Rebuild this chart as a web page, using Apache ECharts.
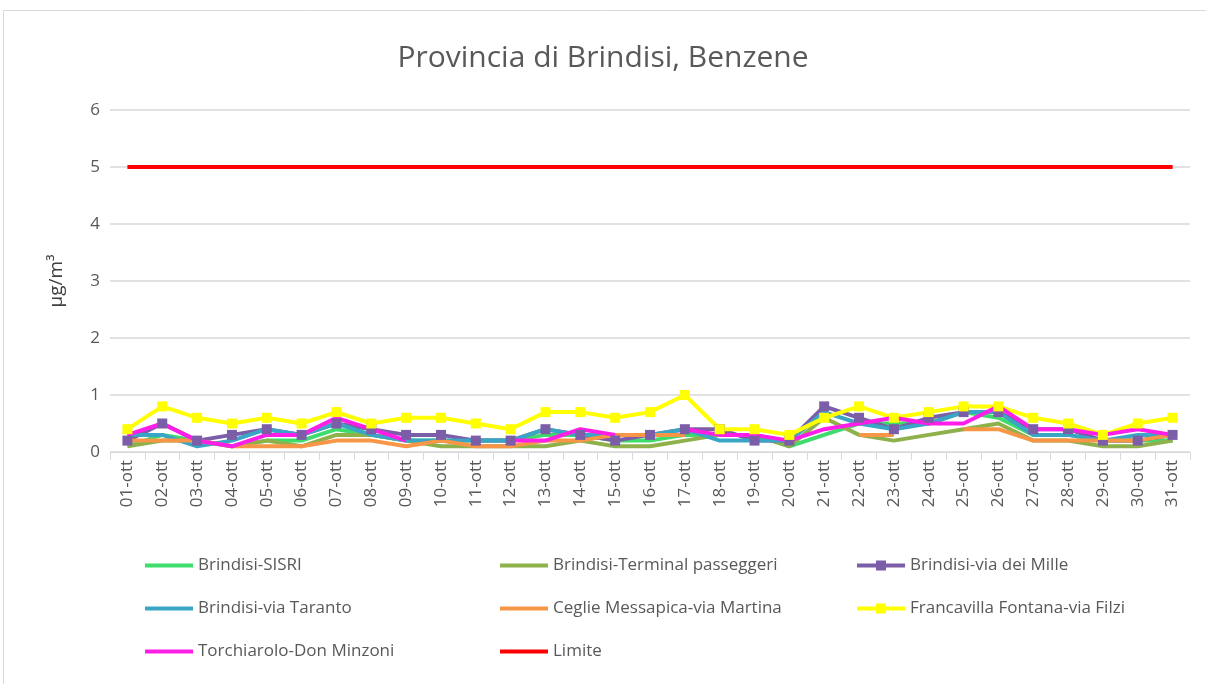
<!DOCTYPE html>
<html><head><meta charset="utf-8">
<script src="https://cdn.jsdelivr.net/npm/echarts@6/dist/echarts.min.js"></script>
<style>html,body{margin:0;padding:0;background:#fff}#c{width:1206px;height:684px}</style>
</head><body><div id="c"></div>
<script>
const days = ['01-ott','02-ott','03-ott','04-ott','05-ott','06-ott','07-ott','08-ott','09-ott','10-ott','11-ott','12-ott','13-ott','14-ott','15-ott','16-ott','17-ott','18-ott','19-ott','20-ott','21-ott','22-ott','23-ott','24-ott','25-ott','26-ott','27-ott','28-ott','29-ott','30-ott','31-ott'];
const yTicks = [0,1,2,3,4,5,6];
const sisri     = [0.1,0.3,0.2,0.1,0.2,0.2,0.4,0.3,0.2,0.2,0.2,0.2,0.3,0.3,0.2,0.2,0.3,0.3,0.3,0.1,0.3,0.5,0.5,0.5,0.7,0.6,0.3,0.3,0.2,0.2,0.2];
const terminal  = [0.1,0.2,0.2,0.1,0.2,0.1,0.3,0.3,0.2,0.1,0.1,0.1,0.1,0.2,0.1,0.1,0.2,0.3,0.3,0.1,0.6,0.3,0.2,0.3,0.4,0.5,0.2,0.2,0.1,0.1,0.2];
const mille     = [0.2,0.5,0.2,0.3,0.4,0.3,0.5,0.4,0.3,0.3,0.2,0.2,0.4,0.3,0.2,0.3,0.4,0.4,0.2,0.2,0.8,0.6,0.4,0.6,0.7,0.7,0.4,0.4,0.2,0.2,0.3];
const taranto   = [0.3,0.3,0.1,0.2,0.4,0.3,0.5,0.3,0.2,0.2,0.2,0.2,0.4,0.3,0.3,0.3,0.4,0.2,0.2,0.2,0.7,0.5,0.4,0.5,0.7,0.7,0.3,0.3,0.2,0.3,0.3];
const ceglie    = [0.2,0.2,0.2,0.1,0.1,0.1,0.2,0.2,0.1,0.2,0.1,0.1,0.2,0.2,0.3,0.3,0.3,null,null,null,null,0.3,0.3,null,0.4,0.4,0.2,0.2,0.2,0.2,0.3];
const francav   = [0.4,0.8,0.6,0.5,0.6,0.5,0.7,0.5,0.6,0.6,0.5,0.4,0.7,0.7,0.6,0.7,1.0,0.4,0.4,0.3,0.6,0.8,0.6,0.7,0.8,0.8,0.6,0.5,0.3,0.5,0.6];
const torch     = [0.3,0.5,0.2,0.1,0.3,0.3,0.6,0.4,0.2,null,null,0.2,0.2,0.4,0.3,null,0.4,0.3,0.3,0.2,0.4,0.5,0.6,0.5,0.5,0.8,0.4,0.4,0.3,0.4,0.3];
const limite    = [5,5,5,5,5,5,5,5,5,5,5,5,5,5,5,5,5,5,5,5,5,5,5,5,5,5,5,5,5,5,5];

const FONT = 'Open Sans';
const TXT = '#595959';
function ln(name, data, color, sym) {
  return {
    name, type:'line', data, connectNulls:false,
    symbol: sym ? 'rect' : 'none', symbolSize: 10,
    lineStyle:{color, width:4}, itemStyle:{color},
    emphasis:{disabled:true}, animation:false
  };
}
const txtStyle = {color:TXT, fontSize:17, fontFamily:FONT};
const plainLegend = {orient:'vertical', icon:'rect', itemWidth:48, itemHeight:4, itemGap:26,
  textStyle:txtStyle, top:552, selectedMode:false};
const markLegend = {orient:'vertical', itemWidth:48, itemHeight:10,
  icon:'path://M0,3H19V0H29V3H48V7H29V10H19V7H0Z', itemGap:26,
  textStyle:txtStyle, top:552, selectedMode:false};
const chart = echarts.init(document.getElementById('c'), null, {renderer:'canvas'});
chart.setOption({
  backgroundColor:'#fff',
  animation:false,
  title:{text:'Provincia di Brindisi, Benzene', left:'center', top:38,
    textStyle:{color:TXT, fontSize:30, fontWeight:'normal', fontFamily:FONT}},
  grid:{left:110, right:16, top:110, bottom:232},
  legend:[
    Object.assign({left:140, data:['Brindisi-SISRI','Brindisi-via Taranto','Torchiarolo-Don Minzoni']}, plainLegend),
    Object.assign({left:495, data:['Brindisi-Terminal passeggeri','Ceglie Messapica-via Martina','Limite']}, plainLegend),
    Object.assign({left:852, data:['Brindisi-via dei Mille','Francavilla Fontana-via Filzi']}, markLegend)
  ],
  xAxis:{type:'category', data:days, boundaryGap:true,
    axisLine:{lineStyle:{color:'#d9d9d9', width:1}},
    axisTick:{show:true, length:8, lineStyle:{color:'#d9d9d9'}},
    axisLabel:{rotate:90, color:TXT, fontSize:17, fontFamily:FONT, margin:8, interval:0}},
  yAxis:{type:'value', min:0, max:6, interval:1,
    name:'µg/m³', nameLocation:'middle', nameGap:44, nameRotate:90,
    nameTextStyle:{color:'#404040', fontSize:19, fontFamily:FONT},
    axisLine:{show:false}, axisTick:{show:false},
    axisLabel:{color:TXT, fontSize:17, fontFamily:FONT, margin:10,
      formatter: v => yTicks.includes(v) ? String(v) : ''},
    splitLine:{lineStyle:{color:'#d9d9d9', width:1.5}}},
  graphic:[{type:'rect', shape:{x:3.5, y:10.5, width:1300, height:700}, style:{fill:null, stroke:'#d9d9d9', lineWidth:1}, silent:true}],
  series:[
    ln('Brindisi-SISRI', sisri, '#3ddc6b', false),
    ln('Brindisi-Terminal passeggeri', terminal, '#8fb14b', false),
    ln('Brindisi-via dei Mille', mille, '#7b5ea7', true),
    ln('Brindisi-via Taranto', taranto, '#3aa6c6', false),
    ln('Ceglie Messapica-via Martina', ceglie, '#f79646', false),
    ln('Francavilla Fontana-via Filzi', francav, '#ffff00', true),
    ln('Torchiarolo-Don Minzoni', torch, '#ff1ee8', false),
    ln('Limite', limite, '#ff0000', false)
  ]
});
</script></body></html>
